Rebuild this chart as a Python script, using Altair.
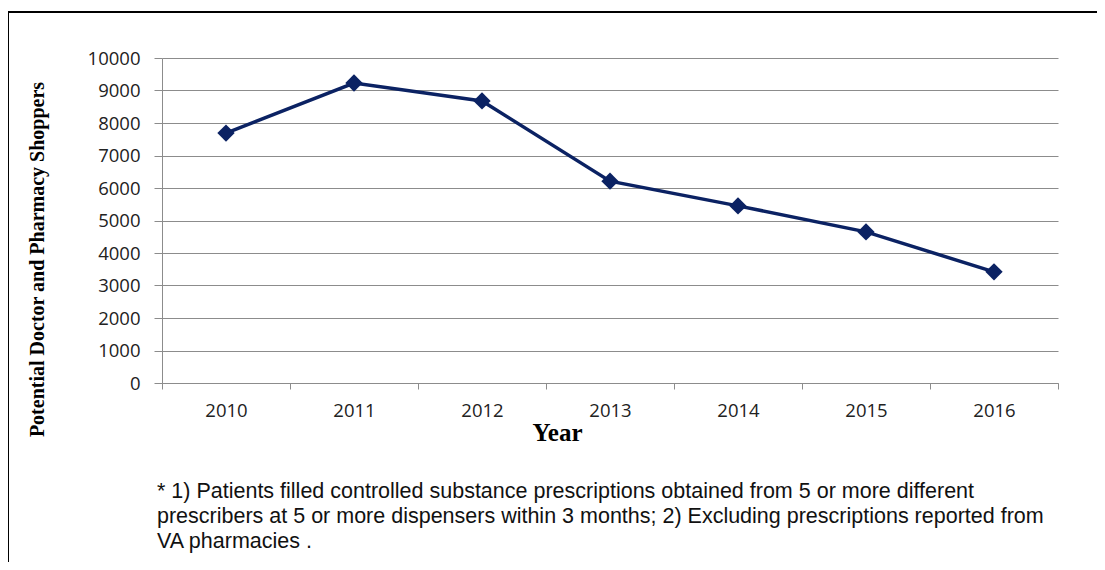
import altair as alt
import pandas as pd

years = ["2010", "2011", "2012", "2013", "2014", "2015", "2016"]
shoppers = [7690, 9230, 8680, 6210, 5450, 4650, 3420]
y_ticks = [0, 1000, 2000, 3000, 4000, 5000, 6000, 7000, 8000, 9000, 10000]
footnote_lines = [
    "* 1) Patients filled  controlled substance prescriptions obtained from 5 or more different",
    "prescribers at 5 or more dispensers within 3 months; 2) Excluding prescriptions reported from",
    "VA pharmacies .",
]
x_title = "Year"
y_title = "Potential Doctor and Pharmacy Shoppers"

df = pd.DataFrame({"year": years, "value": shoppers})
one = pd.DataFrame({"k": [0]})

NAVY = "#0b2263"
GRID = "#8c8c8c"

x_enc = alt.X(
    "year:O",
    bandPosition=0.5,
    scale=alt.Scale(type="band", paddingInner=0, paddingOuter=0),
    axis=alt.Axis(
        title=x_title,
        labelAngle=0,
        tickBand="extent",
        tickSize=6,
        tickColor=GRID,
        domainColor=GRID,
        labelFont="Open Sans",
        labelFontSize=18.5,
        labelColor="#222222",
        labelPadding=12,
        titleFont="Liberation Serif",
        titleFontSize=25,
        titleFontWeight="bold",
        titleColor="#000000",
        titleX=395,
        titleY=57,
        titleAlign="center",
        titleBaseline="alphabetic",
        grid=False,
    ),
)
y_enc = alt.Y(
    "value:Q",
    scale=alt.Scale(domain=[0, 10000], nice=False, zero=True),
    axis=alt.Axis(
        title=y_title,
        values=y_ticks,
        labelOverlap=False,
        format="d",
        tickSize=8,
        tickColor=GRID,
        domainColor=GRID,
        gridColor=GRID,
        gridWidth=1,
        labelFont="Open Sans",
        labelFontSize=18.5,
        labelColor="#222222",
        labelPadding=14,
        titleFont="Liberation Serif",
        titleFontSize=20,
        titleFontWeight="bold",
        titleColor="#000000",
        titleAngle=-90,
        titleX=-125,
        titleY=201,
        titleAlign="center",
        titleBaseline="middle",
    ),
)

line = alt.Chart(df).mark_line(color=NAVY, strokeWidth=3.5).encode(x=x_enc, y=y_enc)
pts = alt.Chart(df).mark_point(
    shape="diamond", filled=True, size=300, color=NAVY, opacity=1
).encode(x=x_enc, y=y_enc)

foot = alt.Chart(one).mark_text(
    align="left",
    baseline="alphabetic",
    font="Liberation Sans",
    fontSize=21.5,
    color="#111111",
    lineHeight=25,
    text=footnote_lines,
).encode(x=alt.value(-5), y=alt.value(440))

top_border = alt.Chart(one).mark_rule(color="#000000", strokeWidth=2).encode(
    x=alt.value(-154), x2=alt.value(1200), y=alt.value(-46)
)
left_border = alt.Chart(one).mark_rule(color="#000000", strokeWidth=2).encode(
    x=alt.value(-154), y=alt.value(-46), y2=alt.value(700)
)

chart = (
    alt.layer(line, pts, foot, top_border, left_border)
    .properties(
        width=896,
        height=325,
        autosize=alt.AutoSizeParams(type="none"),
        padding={"left": 154, "top": 50, "right": 39, "bottom": 179},
        background="white",
    )
    .configure_view(stroke=None)
)

chart.save("out.html", embed_options={"renderer": "svg", "actions": False})
